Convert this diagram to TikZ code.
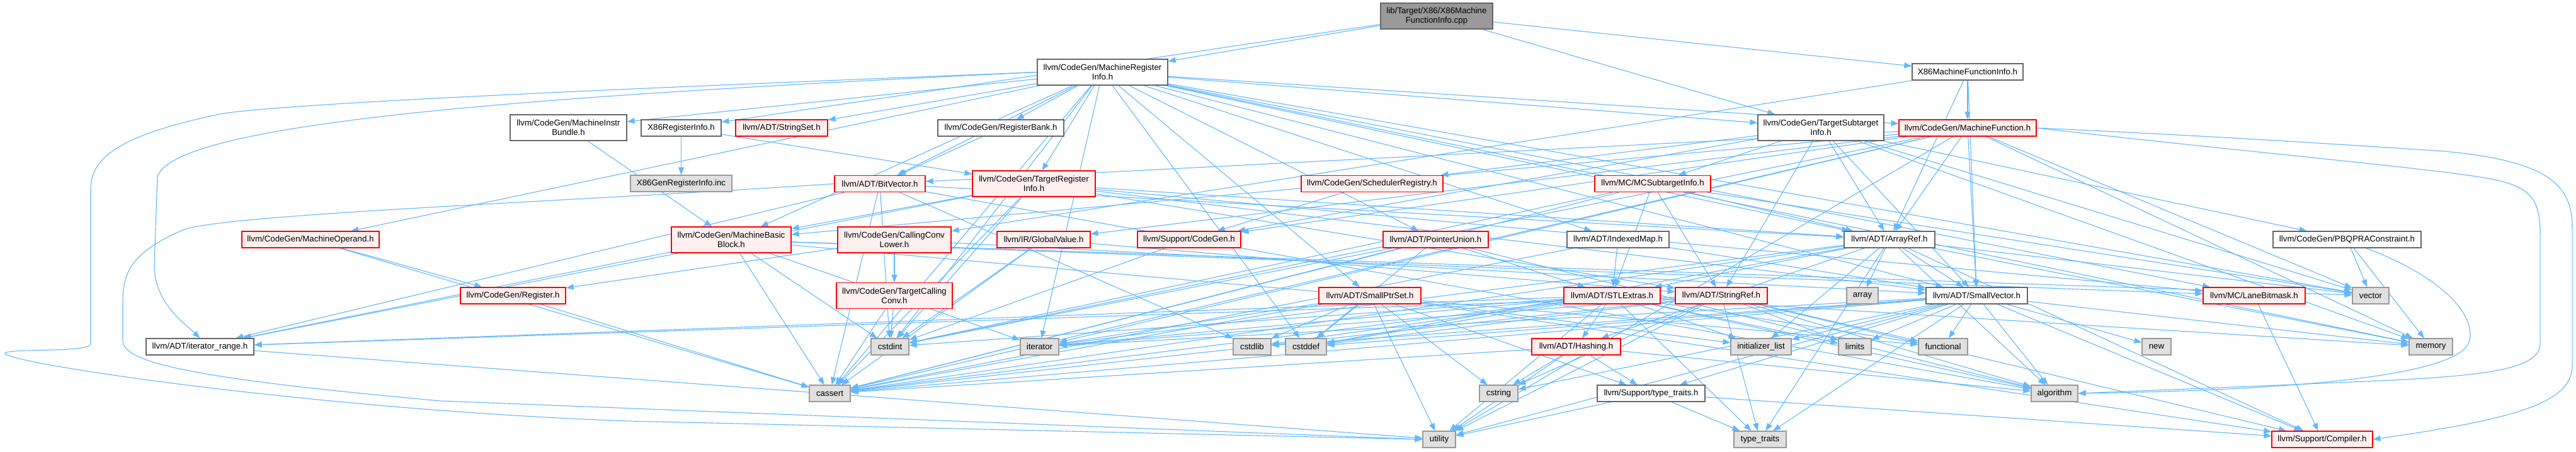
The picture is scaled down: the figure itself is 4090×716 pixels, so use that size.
\documentclass[tikz,border=0pt]{standalone}
\usepackage{fontspec}
\setmainfont{Liberation Sans}
\usetikzlibrary{arrows.meta}
\newcommand\dxf{\fontsize{13.3}{15}\selectfont}
\definecolor{cblue}{HTML}{63B8FF}
\definecolor{cgraysix}{HTML}{666666}
\definecolor{cgraynine}{HTML}{999999}
\definecolor{cgraye}{HTML}{E0E0E0}
\definecolor{cred}{HTML}{FF0000}
\definecolor{cpink}{HTML}{FFF0F0}
\pgfdeclarelayer{bg}
\pgfsetlayers{bg,main}
\tikzset{
 box/.style={rectangle, inner sep=0pt, line width=1.2pt, align=center, font=\dxf},
 wbox/.style={box, draw=cgraysix, fill=white},
 rbox/.style={box, draw=cred, fill=cpink},
 gbox/.style={box, draw=cgraynine, fill=cgraye},
 rootbox/.style={box, draw=cgraysix, fill=cgraynine},
 one/.style={minimum height=26pt},
 two/.style={minimum height=41pt},
 bw/.style={minimum width=#1},
 edge/.style={draw=cblue, line width=1.1pt, -{Triangle[length=12pt,width=9pt]}},
}
\begin{document}
\begin{tikzpicture}[x=1pt,y=-1pt]
\useasboundingbox (0,0) rectangle (4090,716);
% row 0
\node[rootbox,two,bw=178pt] (root) at (2281,25.5) {lib/Target/X86/X86Machine\\FunctionInfo.cpp};
% row 1
\node[wbox,two,bw=207pt] (MRI) at (1750.5,114.5) {llvm/CodeGen/MachineRegister\\Info.h};
\node[wbox,one,bw=176pt] (XMFI) at (3124,114) {X86MachineFunctionInfo.h};
% row 2
\node[wbox,two,bw=185pt] (MIB) at (902.5,202.5) {llvm/CodeGen/MachineInstr\\Bundle.h};
\node[wbox,one,bw=127pt] (XRI) at (1081.5,203) {X86RegisterInfo.h};
\node[rbox,one,bw=146pt] (StrSet) at (1241,203) {llvm/ADT/StringSet.h};
\node[wbox,one,bw=200pt] (RegBank) at (1589,203) {llvm/CodeGen/RegisterBank.h};
\node[wbox,two,bw=200pt] (TSI) at (2891,202.5) {llvm/CodeGen/TargetSubtarget\\Info.h};
\node[rbox,one,bw=218pt] (MF) at (3124,203) {llvm/CodeGen/MachineFunction.h};
% row 3
\node[gbox,one,bw=161pt] (XGen) at (1081.5,291) {X86GenRegisterInfo.inc};
\node[rbox,one,bw=144pt] (BitVec) at (1397,291.5) {llvm/ADT/BitVector.h};
\node[rbox,two,bw=195pt] (TRI) at (1641.5,291.5) {llvm/CodeGen/TargetRegister\\Info.h};
\node[rbox,one,bw=225pt] (SchedReg) at (2178.5,291.5) {llvm/CodeGen/SchedulerRegistry.h};
\node[rbox,one,bw=184pt] (MCSTI) at (2624,291.5) {llvm/MC/MCSubtargetInfo.h};
% row 4
\node[rbox,one,bw=218pt] (MOp) at (493,380) {llvm/CodeGen/MachineOperand.h};
\node[rbox,two,bw=190pt] (MBB) at (1161,380.5) {llvm/CodeGen/MachineBasic\\Block.h};
\node[rbox,two,bw=180pt] (CCL) at (1420,380.5) {llvm/CodeGen/CallingConv\\Lower.h};
\node[rbox,one,bw=148pt] (GV) at (1657,380) {llvm/IR/GlobalValue.h};
\node[rbox,one,bw=164pt] (SCG) at (1888,380) {llvm/Support/CodeGen.h};
\node[rbox,one,bw=167pt] (PU) at (2279.5,380) {llvm/ADT/PointerUnion.h};
\node[wbox,one,bw=162pt] (IMap) at (2569,380) {llvm/ADT/IndexedMap.h};
\node[wbox,one,bw=144pt] (ARef) at (3000,380) {llvm/ADT/ArrayRef.h};
\node[wbox,one,bw=235pt] (PBQP) at (3726.5,380) {llvm/CodeGen/PBQPRAConstraint.h};
% row 5
\node[rbox,one,bw=167pt] (Reg) at (814.5,469) {llvm/CodeGen/Register.h};
\node[rbox,two,bw=184pt] (TCC) at (1420,469) {llvm/CodeGen/TargetCalling\\Conv.h};
\node[rbox,one,bw=162pt] (SPS) at (2175,469) {llvm/ADT/SmallPtrSet.h};
\node[rbox,one,bw=153pt] (STLE) at (2559.5,469) {llvm/ADT/STLExtras.h};
\node[rbox,one,bw=146pt] (SRef) at (2733,469) {llvm/ADT/StringRef.h};
\node[gbox,one,bw=50pt] (arr) at (2957,469) {array};
\node[wbox,one,bw=161pt] (SVec) at (3138.5,469) {llvm/ADT/SmallVector.h};
\node[rbox,one,bw=162pt] (LBM) at (3579,469) {llvm/MC/LaneBitmask.h};
\node[gbox,one,bw=58pt] (vec) at (3764,469) {vector};
% row 6
\node[wbox,one,bw=171pt] (itr) at (317.5,550) {llvm/ADT/iterator\_range.h};
\node[gbox,one,bw=60pt] (cstdint) at (1413,550) {cstdint};
\node[gbox,one,bw=61pt] (iter) at (1650.5,550) {iterator};
\node[gbox,one,bw=60pt] (cstdlib) at (1988,550) {cstdlib};
\node[gbox,one,bw=65pt] (cstddef) at (2073.5,550) {cstddef};
\node[rbox,one,bw=141pt] (Hash) at (2502.5,550) {llvm/ADT/Hashing.h};
\node[gbox,one,bw=96pt] (initl) at (2796,550) {initializer\_list};
\node[gbox,one,bw=52pt] (limits) at (2945,550) {limits};
\node[gbox,one,bw=78pt] (functional) at (3085,550) {functional};
\node[gbox,one,bw=46pt] (new) at (3424,550) {new};
\node[gbox,one,bw=69pt] (memory) at (3859.5,550) {memory};
% row 7
\node[gbox,one,bw=65pt] (cassert) at (1317.5,624) {cassert};
\node[gbox,one,bw=61pt] (cstring) at (2379.5,624) {cstring};
\node[wbox,one,bw=171pt] (ttH) at (2621.5,624) {llvm/Support/type\_traits.h};
\node[gbox,one,bw=74pt] (algorithm) at (3262,624) {algorithm};
% row 8
\node[gbox,one,bw=52pt] (utility) at (2285,697) {utility};
\node[gbox,one,bw=83pt] (tt) at (2794.5,697) {type\_traits};
\node[rbox,one,bw=160pt] (Compiler) at (3687,697) {llvm/Support/Compiler.h};

\begin{pgfonlayer}{bg}
\fill[white] (0,0) rectangle (4090,716);
\foreach \t in {MRI,XMFI,XRI,TSI} \draw[edge] (root) -- (\t);
\foreach \t in {ARef,SVec,CCL,MF} \draw[edge] (XMFI) -- (\t);
\foreach \t in {XGen,TRI} \draw[edge] (XRI) -- (\t);
\foreach \t in {ARef,BitVec,IMap,PU,SPS,SVec,StrSet,MBB,MF,MIB,MOp,RegBank,TRI,TSI,LBM,cassert,cstddef,cstdint,iter,memory,vec} \draw[edge] (MRI) -- (\t);
\draw[edge] (MRI.west) .. controls (1000,140) and (420,165) .. (344,182) .. controls (190,215) and (144,250) .. (144,300) -- (144,545) .. controls (144,560) and (20,552) .. (8,560) .. controls (0,575) and (500,650) .. (1000,668) -- (utility.west);
\draw[edge] (MRI.west) .. controls (900,150) and (280,190) .. (250,280) -- (245,420) .. controls (245,480) and (290,510) .. (itr.north);
\foreach \t in {ARef,SVec,SRef,PBQP,SchedReg,MCSTI,SCG,memory,vec} \draw[edge] (TSI) -- (\t);
\foreach \t in {ARef,BitVec,SVec,MBB,GV,SCG,cassert,cstdint,memory,utility,vec,iter} \draw[edge] (MF) -- (\t);
\draw[edge] (MF.east) .. controls (3500,215) and (3700,228) .. (3881,240) .. controls (4040,255) and (4084,290) .. (4084,360) -- (4084,580) .. controls (4084,640) and (3990,665) .. (Compiler.east);
\draw[edge] (MF.east) .. controls (3600,245) and (3900,270) .. (3970,287) .. controls (4020,300) and (4033,320) .. (4033,370) -- (4033,545) .. controls (4033,585) and (3950,595) .. (3800,603) .. controls (3600,612) and (3400,620) .. (algorithm.east);
\foreach \t in {itr,LBM,cassert,cstdint,iter,functional,vec} \draw[edge] (MBB) -- (\t);
\foreach \t in {ARef,SVec,SRef,itr,MBB,LBM,cassert,cstdint} \draw[edge] (TRI) -- (\t);
\draw[edge] (MIB) -- (MBB);
\draw[edge] (RegBank) -- (BitVec);
\foreach \t in {ARef,itr,cassert,cstdint,cstdlib,algorithm} \draw[edge] (BitVec) -- (\t);
\draw[edge] (BitVec.west) .. controls (900,320) and (350,340) .. (290,365) .. controls (210,400) and (195,430) .. (195,480) -- (195,540) .. controls (195,575) and (300,600) .. (700,636) -- (utility.west);
\foreach \t in {Reg,cassert} \draw[edge] (MOp) -- (\t);
\draw[edge] (Reg) -- (cassert);
\foreach \t in {SVec,Reg,TCC} \draw[edge] (CCL) -- (\t);
\foreach \t in {cassert,cstdint} \draw[edge] (TCC) -- (\t);
\foreach \t in {SRef,cassert,cstdint} \draw[edge] (GV) -- (\t);
\draw[edge] (SCG) -- (cstdint);
\draw[edge] (SchedReg) -- (SCG);
\foreach \t in {ARef,STLE,SRef,cassert,cstdint,vec} \draw[edge] (MCSTI) -- (\t);
\foreach \t in {STLE,algorithm,cassert,cstddef,cstdint} \draw[edge] (PU) -- (\t);
\foreach \t in {STLE,SVec,cassert} \draw[edge] (IMap) -- (\t);
\foreach \t in {Hash,SVec,STLE,Compiler,algorithm,arr,cassert,cstddef,initl,iter,memory,tt,vec} \draw[edge] (ARef) -- (\t);
\foreach \t in {memory,vec} \draw[edge] (PBQP) -- (\t);
\draw[edge] ([xshift=30pt]PBQP.south) .. controls (3880,440) and (3930,500) .. (3921,540) .. controls (3910,590) and (3700,618) .. (algorithm.east);
\foreach \t in {Compiler,ttH,cassert,cstddef,cstdlib,cstring,initl,iter,utility} \draw[edge] (SPS) -- (\t);
\foreach \t in {Hash,itr,algorithm,cassert,cstddef,cstdint,cstdlib,functional,initl,iter,limits,memory,tt,utility} \draw[edge] (STLE) -- (\t);
\foreach \t in {itr,Compiler,algorithm,cassert,cstddef,cstring,functional,iter,limits,tt,utility} \draw[edge] (SRef) -- (\t);
\foreach \t in {Compiler,ttH,algorithm,cassert,cstddef,cstdlib,cstring,functional,initl,iter,limits,memory,new,tt,utility} \draw[edge] (SVec) -- (\t);
\draw[edge] (LBM) -- (Compiler);
\foreach \t in {ttH,algorithm,cassert,cstring,utility} \draw[edge] (Hash) -- (\t);
\foreach \t in {Compiler,tt,utility} \draw[edge] (ttH) -- (\t);
\draw[edge] (itr) -- (utility);
\end{pgfonlayer}
\end{tikzpicture}
\end{document}
